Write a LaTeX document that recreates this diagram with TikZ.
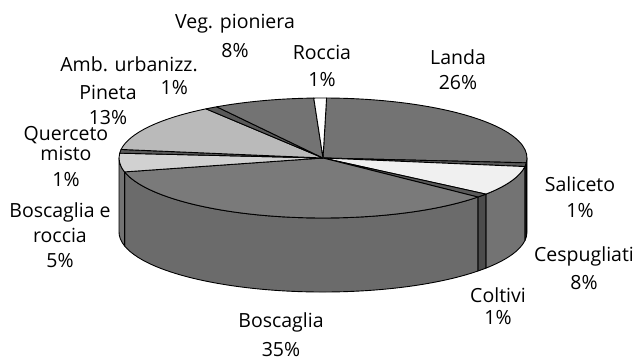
\documentclass[tikz,border=0pt]{standalone}
\usepackage{fontspec}
\setmainfont{Open Sans}
\begin{document}
\begin{tikzpicture}[x=1pt, y=1pt, x radius=204, y radius=60,
    face/.style={draw=black, line width=0.9pt, line join=round},
    landa/.style={fill=black!55}, saliceto/.style={fill=black!65},
    cesp/.style={fill=black!6}, coltivi/.style={fill=black!65},
    bosc/.style={fill=black!52}, boscroc/.style={fill=black!18},
    querc/.style={fill=black!65}, pineta/.style={fill=black!27},
    amb/.style={fill=black!65}, veg/.style={fill=black!55},
    roccia/.style={fill=white},
    lbl/.style={align=center, inner sep=0pt,
      font=\fontsize{19.5}{25}\selectfont}]
      \useasboundingbox (0,0) rectangle (635,360);
      \coordinate (c) at (323,202);

      % Sides (front)
      \filldraw[face, landa, fill=black!62] (c) ++(0:204 and 60)
        arc[start angle=0, end angle=-4.6] -- ++(0,-74)
        arc[start angle=-4.6, end angle=0] -- cycle;
      \filldraw[face, saliceto, fill=black!70] (c) ++(-4.6:204 and 60)
        arc[start angle=-4.6, end angle=-8.2] -- ++(0,-74)
        arc[start angle=-8.2, end angle=-4.6] -- cycle;
      \filldraw[face, cesp, fill=black!55] (c) ++(-8.2:204 and 60)
        arc[start angle=-8.2, end angle=-37] -- ++(0,-74)
        arc[start angle=-37, end angle=-8.2] -- cycle;
      \filldraw[face, coltivi, fill=black!70] (c) ++(-37:204 and 60)
        arc[start angle=-37, end angle=-40.6] -- ++(0,-74)
        arc[start angle=-40.6, end angle=-37] -- cycle;
      \filldraw[face, bosc, fill=black!58] (c) ++(-40.6:204 and 60)
        arc[start angle=-40.6, end angle=-166.6] -- ++(0,-74)
        arc[start angle=-166.6, end angle=-40.6] -- cycle;
      \filldraw[face, boscroc, fill=black!55] (c) ++(-166.6:204 and 60)
        arc[start angle=-166.6, end angle=-180] -- ++(0,-74)
        arc[start angle=-180, end angle=-166.6] -- cycle;

      % Slices (top)
      \filldraw[face, landa] (c) -- ++(89:204 and 60)
        arc[start angle=89, end angle=-4.6] -- cycle;
      \filldraw[face, saliceto] (c) -- ++(-4.6:204 and 60)
        arc[start angle=-4.6, end angle=-8.2] -- cycle;
      \filldraw[face, cesp] (c) -- ++(-8.2:204 and 60)
        arc[start angle=-8.2, end angle=-37] -- cycle;
      \filldraw[face, coltivi] (c) -- ++(-37:204 and 60)
        arc[start angle=-37, end angle=-40.6] -- cycle;
      \filldraw[face, bosc] (c) -- ++(-40.6:204 and 60)
        arc[start angle=-40.6, end angle=-166.6] -- cycle;
      \filldraw[face, boscroc] (c) -- ++(-166.6:204 and 60)
        arc[start angle=-166.6, end angle=-184.6] -- cycle;
      \filldraw[face, querc] (c) -- ++(-184.6:204 and 60)
        arc[start angle=-184.6, end angle=-188.2] -- cycle;
      \filldraw[face, pineta] (c) -- ++(-188.2:204 and 60)
        arc[start angle=-188.2, end angle=-235] -- cycle;
      \filldraw[face, amb] (c) -- ++(-235:204 and 60)
        arc[start angle=-235, end angle=-238.6] -- cycle;
      \filldraw[face, veg] (c) -- ++(-238.6:204 and 60)
        arc[start angle=-238.6, end angle=-267.4] -- cycle;
      \filldraw[face, roccia] (c) -- ++(-267.4:204 and 60)
        arc[start angle=-267.4, end angle=-271] -- cycle;

      % Labels
      \node[lbl] (lb-landa) at (458,290) {Landa\\26\%};
      \node[lbl] (lb-roccia) at (322,294) {Roccia\\[2pt]1\%};
      \node[lbl] (lb-veg) at (235,324) {Veg. pioniera\\[4pt]8\%};
      \node[lbl, align=right, anchor=east] (lb-amb) at (198,284)
        {Amb. urbanizz.\\[-2pt]1\%\hspace*{10pt}};
      \node[lbl] (lb-pineta) at (108,255) {Pineta\\13\%};
      \node[lbl] (lb-querc) at (66,203.5) {Querceto\\[-5pt]misto\\[1pt]1\%};
      \node[lbl] (lb-boscroc) at (60,124.5) {Boscaglia e\\roccia\\5\%};
      \node[lbl] (lb-bosc) at (281,25) {Boscaglia\\[4pt]35\%};
      \node[lbl] (lb-coltivi) at (498,53.5) {Coltivi\\[-3pt]1\%};
      \node[lbl] (lb-cesp) at (584,91.5) {Cespugliati\\[3pt]8\%};
      \node[lbl] (lb-saliceto) at (580,162.5) {Saliceto\\[1pt]1\%};
    \end{tikzpicture}
\end{document}
